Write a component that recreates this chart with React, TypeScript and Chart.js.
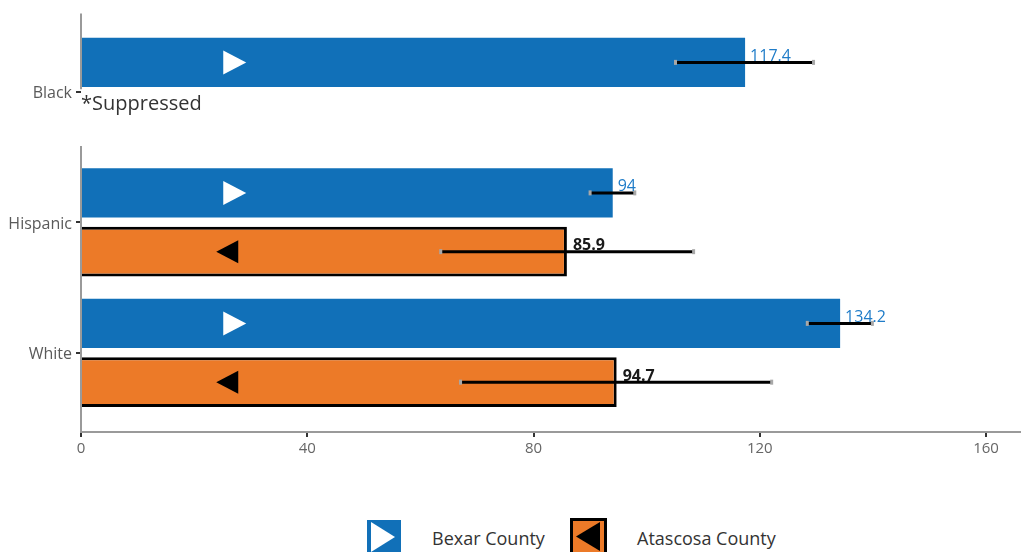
import React, { useEffect, useRef } from 'react';
import { Chart, registerables } from 'chart.js';

Chart.register(...registerables);

// ---------- data ----------
const CATEGORIES = ['Black', 'Hispanic', 'White'];
const CATEGORY_POS = [0, 1, 2];
const SERIES_NAMES = ['Bexar County', 'Atascosa County'];
const BEXAR_VALUES = [117.4, 94, 134.2];
const BEXAR_LOW = [105.1, 90.0, 128.4];
const BEXAR_HIGH = [129.5, 97.9, 139.9];
const ATASCOSA_VALUES: (number | null)[] = [null, 85.9, 94.7];
const ATASCOSA_LOW: (number | null)[] = [null, 63.6, 67.1];
const ATASCOSA_HIGH: (number | null)[] = [null, 108.3, 122.1];
const X_TICKS = [0, 40, 80, 120, 160];
const X_MAX = 166;
const SUPPRESSED_TEXT = '*Suppressed';

// ---------- style ----------
const FONT = '"Open Sans", sans-serif';
const BLUE = '#1170b8';
const ORANGE = '#ec7a28';
const LABEL_BLUE = '#1f7cc8';
const Y_MIN = -0.599;
const Y_MAX = 2.607;
const AXIS_SEGMENTS = [
  [Y_MIN, -0.02],
  [0.416, Y_MAX],
];
const MARKER_VALUE = 26.5;

const VALUES = [BEXAR_VALUES, ATASCOSA_VALUES];
const LOWS = [BEXAR_LOW, ATASCOSA_LOW];
const HIGHS = [BEXAR_HIGH, ATASCOSA_HIGH];

const overlayPlugin = {
  id: 'overlay',
  beforeDatasetsDraw(chart: any) {
    const { ctx, chartArea, scales } = chart;
    const y = scales.y;
    ctx.save();
    ctx.strokeStyle = '#9a9a9a';
    ctx.lineWidth = 2;
    for (const [a, b] of AXIS_SEGMENTS) {
      ctx.beginPath();
      ctx.moveTo(chartArea.left, y.getPixelForValue(a));
      ctx.lineTo(chartArea.left, y.getPixelForValue(b));
      ctx.stroke();
    }
    ctx.restore();
  },
  afterDatasetsDraw(chart: any) {
    const { ctx, chartArea, scales } = chart;
    const x = scales.x;
    const y = scales.y;
    ctx.save();
    VALUES.forEach((vals, di) => {
      const meta = chart.getDatasetMeta(di);
      meta.data.forEach((bar: any, i: number) => {
        const v = vals[i];
        if (v == null) {
          if (di === 1) {
            ctx.fillStyle = '#333';
            ctx.font = `20px ${FONT}`;
            ctx.textAlign = 'left';
            ctx.textBaseline = 'middle';
            ctx.fillText(SUPPRESSED_TEXT, chartArea.left, y.getPixelForValue(CATEGORY_POS[i]) + 13);
          }
          return;
        }
        const cy = bar.y;
        // marker triangle
        const cx = x.getPixelForValue(MARKER_VALUE);
        ctx.beginPath();
        if (di === 0) {
          const w = 23, h = 24;
          ctx.moveTo(cx - w / 3, cy - h / 2);
          ctx.lineTo(cx + (2 * w) / 3, cy);
          ctx.lineTo(cx - w / 3, cy + h / 2);
          ctx.fillStyle = '#ffffff';
        } else {
          const w = 22, h = 23;
          ctx.moveTo(cx + w / 3, cy - h / 2);
          ctx.lineTo(cx - (2 * w) / 3, cy);
          ctx.lineTo(cx + w / 3, cy + h / 2);
          ctx.fillStyle = '#000000';
        }
        ctx.closePath();
        ctx.fill();
        // error bar
        const lo = LOWS[di][i];
        const hi = HIGHS[di][i];
        if (lo != null && hi != null) {
          const x0 = x.getPixelForValue(lo);
          const x1 = x.getPixelForValue(hi);
          ctx.strokeStyle = '#000';
          ctx.lineWidth = 3;
          ctx.beginPath();
          ctx.moveTo(x0, cy);
          ctx.lineTo(x1, cy);
          ctx.stroke();
          ctx.fillStyle = '#a8a8a8';
          ctx.fillRect(x0 - 1.5, cy - 2.5, 3, 5);
          ctx.fillRect(x1 - 1.5, cy - 2.5, 3, 5);
        }
        // value label
        ctx.textAlign = 'left';
        ctx.textBaseline = 'middle';
        if (di === 0) {
          ctx.fillStyle = LABEL_BLUE;
          ctx.font = `16px ${FONT}`;
          ctx.fillText(String(v), bar.x + 5, cy - 6);
        } else {
          ctx.fillStyle = '#1a1a1a';
          ctx.font = `bold 16px ${FONT}`;
          ctx.fillText(String(v), bar.x + 6, cy - 6);
        }
      });
    });
    ctx.restore();
  },
};

function LegendIcon({ kind }: { kind: 'right' | 'left' }) {
  if (kind === 'right') {
    return (
      <svg width={34} height={34} style={{ display: 'block' }}>
        <rect x={0} y={0} width={34} height={34} fill={BLUE} />
        <polygon points="4,2 28,17 4,32" fill="#ffffff" />
      </svg>
    );
  }
  return (
    <svg width={37} height={37} style={{ display: 'block' }}>
      <rect x={1.5} y={1.5} width={34} height={34} fill={ORANGE} stroke="#000" strokeWidth={3} />
      <polygon points="30,4 6,18.5 30,33" fill="#000000" />
    </svg>
  );
}

export default function App() {
  const canvasRef = useRef<HTMLCanvasElement | null>(null);

  useEffect(() => {
    document.body.style.margin = '0';
    const canvas = canvasRef.current;
    if (!canvas) return;
    const chart = new Chart(canvas, {
      type: 'bar',
      data: {
        datasets: [
          {
            label: SERIES_NAMES[0],
            data: CATEGORY_POS.map((p, i) => ({ x: BEXAR_VALUES[i], y: p })),
            backgroundColor: BLUE,
            borderWidth: 0,
            categoryPercentage: 0.9008,
            barPercentage: 0.835,
          },
          {
            label: SERIES_NAMES[1],
            data: CATEGORY_POS.map((p, i) => ({ x: ATASCOSA_VALUES[i], y: p })),
            backgroundColor: ORANGE,
            borderColor: '#000',
            borderWidth: 3,
            categoryPercentage: 0.9008,
            barPercentage: 0.845,
          },
        ] as any,
      },
      options: {
        indexAxis: 'y',
        animation: false,
        responsive: false,
        maintainAspectRatio: false,
        layout: { padding: { top: 12, right: 2, left: 0, bottom: 0 } },
        plugins: {
          legend: { display: false },
          tooltip: { enabled: false },
        },
        scales: {
          x: {
            type: 'linear',
            min: 0,
            max: X_MAX,
            afterBuildTicks: (s: any) => {
              s.ticks = X_TICKS.map((v) => ({ value: v }));
            },
            afterFit: (s: any) => {
              s.height = 38;
            },
            ticks: {
              color: '#666',
              font: { family: FONT, size: 15 },
              padding: 3,
              includeBounds: false,
            },
            grid: {
              drawOnChartArea: false,
              drawTicks: true,
              tickLength: 5,
              color: '#333',
              lineWidth: 2,
            },
            border: { display: true, color: '#9a9a9a', width: 2 },
          },
          y: {
            type: 'linear',
            reverse: true,
            min: Y_MIN,
            max: Y_MAX,
            offset: false,
            afterBuildTicks: (s: any) => {
              s.ticks = CATEGORY_POS.map((v) => ({ value: v }));
            },
            afterFit: (s: any) => {
              s.width = 81;
            },
            ticks: {
              callback: (_v: any, i: number) => CATEGORIES[i] ?? '',
              color: '#5a5a5a',
              font: { family: FONT, size: 16 },
              padding: 4,
              labelOffset: 2,
              autoSkip: false,
            },
            grid: {
              offset: false,
              drawOnChartArea: false,
              drawTicks: true,
              tickLength: 5,
              color: '#333',
              lineWidth: 2,
            },
            border: { display: false },
          },
        } as any,
      },
      plugins: [overlayPlugin],
    });
    return () => chart.destroy();
  }, []);

  const textStyle: React.CSSProperties = {
    position: 'absolute',
    top: 526,
    lineHeight: '24px',
    fontSize: 18,
    fontFamily: FONT,
    color: '#333',
    whiteSpace: 'nowrap',
  };

  return (
    <div style={{ position: 'relative', width: 1022, height: 552, overflow: 'hidden', background: '#fff' }}>
      <canvas ref={canvasRef} width={1022} height={470} style={{ display: 'block', width: 1022, height: 470 }} />
      <div style={{ position: 'absolute', left: 367, top: 520 }}>
        <LegendIcon kind="right" />
      </div>
      <span style={{ ...textStyle, left: 432 }}>{SERIES_NAMES[0]}</span>
      <div style={{ position: 'absolute', left: 570, top: 518 }}>
        <LegendIcon kind="left" />
      </div>
      <span style={{ ...textStyle, left: 637 }}>{SERIES_NAMES[1]}</span>
    </div>
  );
}
